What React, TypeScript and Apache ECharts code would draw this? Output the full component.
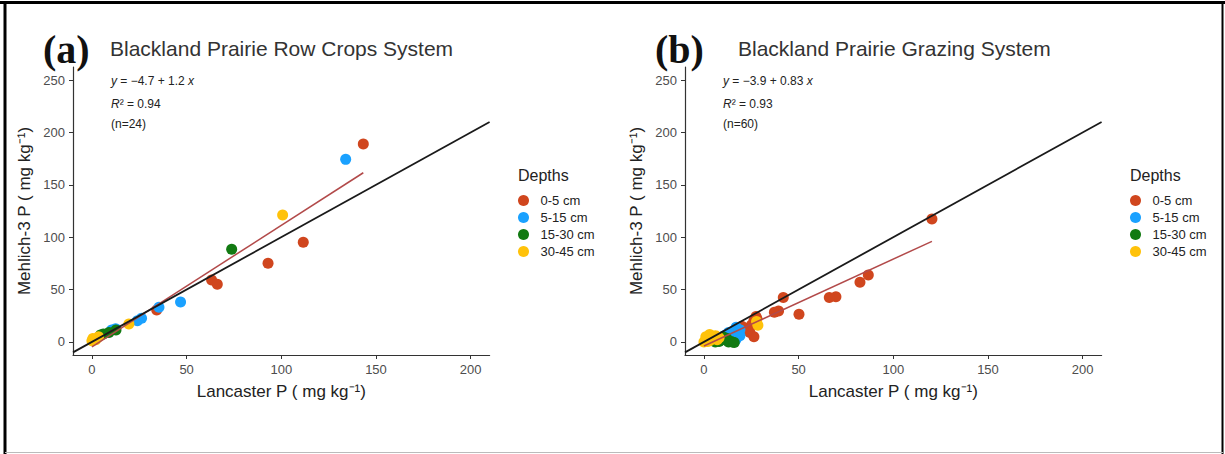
import React, { useEffect, useRef } from "react";
import * as echarts from "echarts";

const depths = ["0-5 cm", "5-15 cm", "15-30 cm", "30-45 cm"];
const depthColors = ["#D0461E", "#1AA1FF", "#127A12", "#FFC20A"];
const xTicks = [0, 50, 100, 150, 200];
const yTicks = [0, 50, 100, 150, 200, 250];
const xRange = [-10, 210];
const yRange = [-12.5, 262.5];
const oneToOne = [[-10, -10], [210, 210]];

// Panel (a) Row Crops: [Lancaster P, Mehlich-3 P]
const rowCrops0to5 = [[143.3, 189], [111.6, 95.1], [93, 75.1], [63.2, 59.2], [66.2, 55], [34.2, 30.5]];
const rowCrops5to15 = [[134, 174.3], [46.8, 38.2], [35.4, 33.1], [26.2, 22.6], [24, 20.3], [10.4, 11.4], [12.5, 12.5]];
const rowCrops15to30 = [[73.8, 88.4], [12.7, 11.4], [6, 7.6], [9, 9], [4.5, 6.5]];
const rowCrops30to45 = [[100.7, 121.2], [19.5, 17.2], [0.5, 3.2], [3.5, 5], [0, 1], [2, 2]];
const rowCropsFit = [-4.7, 1.16]; // intercept, slope

// Panel (b) Grazing
const grazing0to5 = [[120.4, 117.4], [86.8, 63.9], [82.4, 57], [69.7, 43.2], [66.2, 42.3], [50.2, 26.4], [41.9, 42.3], [39.4, 29.6], [37.2, 28.3], [27.5, 24.2], [26.4, 20.3], [21.8, 13], [24.3, 8.9], [26.4, 5], [28, 22], [25, 16], [20, 15], [23, 11], [19, 12], [27, 18]];
const grazing5to15 = [[19, 11.5], [17, 14], [15, 10], [16, 7], [14, 5], [12, 7], [18, 9], [17, 2.5], [14, 1.5], [13, 9], [16, 0.5], [17, 5], [11, 6], [19, 6]];
const grazing15to30 = [[5, 2], [7, 3], [9, 4.5], [11, 2], [13, 0], [15, 0], [8, 0.5], [10, 5], [6, 0], [12, 3.5], [14, 0.5], [16, -0.5]];
const grazing30to45 = [[0, 0], [1, 2], [2, 4], [3, 1], [4, 5], [5, 3], [6, 6], [2, 0.5], [1, 5], [7, 2], [3, 7], [8, 4], [27.8, 19.4], [28.5, 16]];
const grazingFit = [-3.9, 0.83];

const FONT = "Liberation Sans, Arial, sans-serif";
const SERIF = "Liberation Serif, Times New Roman, serif";

function fitLine(groups: number[][][], fit: number[]) {
  const xs = groups.flat().map((p) => p[0]);
  const lo = Math.min(...xs);
  const hi = Math.max(...xs);
  return [[lo, fit[0] + fit[1] * lo], [hi, fit[0] + fit[1] * hi]];
}

function xAxis(gridIndex: number) {
  return {
    type: "value",
    gridIndex,
    min: xRange[0],
    max: xRange[1],
    splitLine: { show: false },
    axisLine: { show: true, onZero: false, lineStyle: { color: "#333", width: 1.2 } },
    axisTick: { show: true, length: 4, customValues: xTicks, lineStyle: { color: "#333" } },
    axisLabel: { customValues: xTicks, color: "#4d4d4d", fontSize: 13, fontFamily: FONT, margin: 8 },
    name: "Lancaster P ( mg kg⁻¹)",
    nameLocation: "middle",
    nameGap: 28,
    nameTextStyle: { fontSize: 17, color: "#222", fontFamily: FONT, verticalAlign: "top" },
  };
}

function yAxis(gridIndex: number) {
  return {
    type: "value",
    gridIndex,
    min: yRange[0],
    max: yRange[1],
    splitLine: { show: false },
    axisLine: { show: true, onZero: false, lineStyle: { color: "#333", width: 1.2 } },
    axisTick: { show: true, length: 4, customValues: yTicks, lineStyle: { color: "#333" } },
    axisLabel: { customValues: yTicks, color: "#4d4d4d", fontSize: 13, fontFamily: FONT, margin: 8 },
    name: "Mehlich-3 P ( mg kg⁻¹)",
    nameLocation: "middle",
    nameGap: 40,
    nameRotate: 90,
    nameTextStyle: { fontSize: 17, color: "#222", fontFamily: FONT },
  };
}

function scatter(idx: number, data: number[][], di: number) {
  return {
    type: "scatter",
    name: depths[di],
    xAxisIndex: idx,
    yAxisIndex: idx,
    data,
    symbol: "circle",
    symbolSize: 11,
    itemStyle: { color: depthColors[di], opacity: 1 },
    z: 2,
  };
}

function line(idx: number, data: number[][], color: string, width: number, z: number) {
  return {
    type: "line",
    xAxisIndex: idx,
    yAxisIndex: idx,
    data,
    symbol: "none",
    lineStyle: { color, width },
    silent: true,
    z,
  };
}

function legend(left: number) {
  return {
    orient: "vertical",
    left,
    top: 189,
    data: depths,
    icon: "circle",
    itemWidth: 24,
    itemHeight: 11,
    itemGap: 4,
    textStyle: { fontSize: 13, color: "#222", fontFamily: FONT },
    selectedMode: false,
  };
}

function annotation(x: number, eq: string, r2: string, n: string) {
  const base = { fontSize: 12, fontFamily: FONT, fill: "#222", verticalAlign: "middle" };
  return [
    {
      type: "text", x, y: 81,
      style: {
        ...base,
        text: "{i|y} = " + eq,
        rich: { i: { fontStyle: "italic", fontSize: 12, fontFamily: FONT, fill: "#222" } },
      },
    },
    {
      type: "text", x, y: 104,
      style: {
        ...base,
        text: "{i|R}² = " + r2,
        rich: { i: { fontStyle: "italic", fontSize: 12, fontFamily: FONT, fill: "#222" } },
      },
    },
    { type: "text", x, y: 124, style: { ...base, text: n } },
  ];
}

export default function App() {
  const ref = useRef<HTMLDivElement>(null);
  useEffect(() => {
    document.body.style.margin = "0";
    const chart = echarts.init(ref.current!, null, { renderer: "svg" });
    const aGroups = [rowCrops0to5, rowCrops5to15, rowCrops15to30, rowCrops30to45];
    const bGroups = [grazing0to5, grazing5to15, grazing15to30, grazing30to45];
    chart.setOption({
      animation: false,
      backgroundColor: "#fff",
      grid: [
        { left: 73, top: 67, width: 416.6, height: 288 },
        { left: 685, top: 67, width: 416.6, height: 288 },
      ],
      xAxis: [xAxis(0), xAxis(1)],
      yAxis: [yAxis(0), yAxis(1)],
      legend: [legend(513), legend(1125)],
      series: [
        ...aGroups.map((d, i) => scatter(0, d, i)),
        ...bGroups.map((d, i) => scatter(1, d, i)),
        line(0, fitLine(aGroups, rowCropsFit), "#B24A4A", 1.5, 3),
        line(1, fitLine(bGroups, grazingFit), "#B24A4A", 1.5, 3),
        line(0, oneToOne, "#1a1a1a", 1.8, 4),
        line(1, oneToOne, "#1a1a1a", 1.8, 4),
      ],
      graphic: [
        { type: "line", shape: { x1: 0, y1: 2.5, x2: 1225, y2: 2.5 }, style: { stroke: "#000", lineWidth: 3 } },
        { type: "line", shape: { x1: 5, y1: 1, x2: 5, y2: 454 }, style: { stroke: "#000", lineWidth: 3 } },
        { type: "line", shape: { x1: 1222.5, y1: 1, x2: 1222.5, y2: 454 }, style: { stroke: "#000", lineWidth: 2 } },
        { type: "line", shape: { x1: 5, y1: 452.5, x2: 1223, y2: 452.5 }, style: { stroke: "#bbb", lineWidth: 1 } },
        { type: "text", x: 43, y: 49, style: { text: "(a)", fontSize: 40, fontWeight: "bold", fontFamily: SERIF, fill: "#111", verticalAlign: "middle" } },
        { type: "text", x: 110, y: 48, style: { text: "Blackland Prairie Row Crops System", fontSize: 21, fontFamily: FONT, fill: "#333", verticalAlign: "middle" } },
        { type: "text", x: 655, y: 49, style: { text: "(b)", fontSize: 40, fontWeight: "bold", fontFamily: SERIF, fill: "#111", verticalAlign: "middle" } },
        { type: "text", x: 738, y: 48, style: { text: "Blackland Prairie Grazing System", fontSize: 21, fontFamily: FONT, fill: "#333", verticalAlign: "middle" } },
        ...annotation(111, "−4.7 + 1.2 {i|x}", "0.94", "(n=24)"),
        ...annotation(723, "−3.9 + 0.83 {i|x}", "0.93", "(n=60)"),
        { type: "text", x: 518, y: 175, style: { text: "Depths", fontSize: 16, fontFamily: FONT, fill: "#222", verticalAlign: "middle" } },
        { type: "text", x: 1130, y: 175, style: { text: "Depths", fontSize: 16, fontFamily: FONT, fill: "#222", verticalAlign: "middle" } },
      ],
    });
    return () => chart.dispose();
  }, []);
  return <div ref={ref} style={{ width: 1225, height: 454 }} />;
}
